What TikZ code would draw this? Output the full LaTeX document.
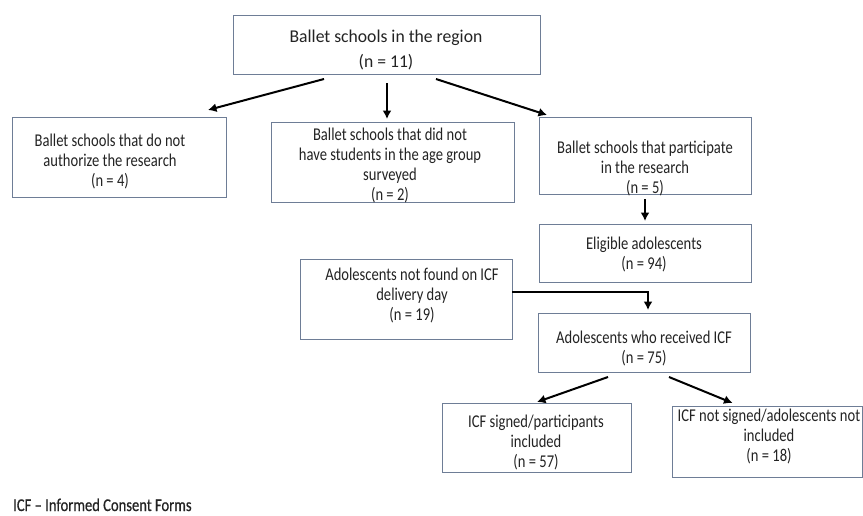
\documentclass[tikz,border=0pt]{standalone}
\usepackage{fontspec}
\setmainfont{Carlito}[FakeStretch=0.81]
\newfontfamily\topfont{Carlito}[FakeStretch=0.98]
\newfontfamily\notefont{Carlito}[FakeStretch=0.81,FakeBold=0.6]
\usetikzlibrary{arrows.meta}
\definecolor{boxc}{RGB}{110,125,150}
\definecolor{txtc}{RGB}{35,35,35}
\begin{document}
\begin{tikzpicture}[x=1pt,y=-1pt,
  box/.style={draw=boxc, line width=0.9pt, fill=white, inner sep=0pt, outer sep=0pt, anchor=north west},
  lbl/.style={text=txtc, align=center, font=\fontsize{18}{20}\selectfont, inner sep=0pt},
  toplbl/.style={text=txtc, align=center, font=\topfont\fontsize{18}{25}\selectfont, inner sep=0pt},
  arr/.style={line width=2pt, -{Latex[length=8.5pt,width=9pt]}},
  plain/.style={line width=2pt}]
\useasboundingbox[fill=white] (0,0) rectangle (863,515);

% boxes
\node[box, minimum width=307pt, minimum height=59pt] (top) at (233,15) {};
\node[box, minimum width=214pt, minimum height=80pt] (b1) at (12,117) {};
\node[box, minimum width=243pt, minimum height=80pt] (b2) at (271,122) {};
\node[box, minimum width=212pt, minimum height=77pt] (b3) at (539,117) {};
\node[box, minimum width=212pt, minimum height=58pt] (el) at (539,224) {};
\node[box, minimum width=212pt, minimum height=80pt] (nf) at (300,259) {};
\node[box, minimum width=212pt, minimum height=59pt] (rec) at (538,313) {};
\node[box, minimum width=189pt, minimum height=69pt] (sg) at (442,403) {};
\node[box, minimum width=190pt, minimum height=71pt] (ns) at (672,406) {};

% texts
\node[toplbl] (t0) at (386,50) {Ballet schools in the region\\(n = 11)};
\node[lbl] (t1) at (110,161) {Ballet schools that do not\\authorize the research\\(n = 4)};
\node[lbl] (t2) at (390,165) {Ballet schools that did not\\have students in the age group\\surveyed\\(n = 2)};
\node[lbl] (t3) at (645,168) {Ballet schools that participate\\in the research\\(n = 5)};
\node[lbl] (t4) at (644,254) {Eligible adolescents\\(n = 94)};
\node[lbl] (t5) at (412,295) {Adolescents not found on ICF\\delivery day\\(n = 19)};
\node[lbl] (t6) at (644,348) {Adolescents who received ICF\\(n = 75)};
\node[lbl] (t7) at (536,442) {ICF signed/participants\\included\\(n = 57)};
\node[lbl] (t8) at (769,436) {ICF not signed/adolescents not\\included\\(n = 18)};
\node[lbl, font=\notefont\fontsize{18}{20}\selectfont, anchor=base west] (fn) at (13,511) {ICF – Informed Consent Forms};

% connectors
\draw[arr] ([xshift=-62.5pt,yshift=-5pt]top.south) -- ([xshift=89pt,yshift=7pt]b1.north);
\draw[arr] ([xshift=0.5pt,yshift=-9pt]top.south) -- ([xshift=-5.5pt,yshift=3pt]b2.north);
\draw[arr] ([xshift=49.5pt,yshift=-5pt]top.south) -- ([xshift=-98pt,yshift=2pt]b3.north);
\draw[arr] ([yshift=-5pt]b3.south) -- ([yshift=3pt]el.north);
\coordinate (j) at (648,292);
\draw[plain] (nf.east |- j) -- (j);
\draw[arr] ([yshift=1pt]j) -- ([yshift=3pt]rec.north -| j);
\draw[arr] ([xshift=-36pt,yshift=-5pt]rec.south) -- ([xshift=0.5pt,yshift=1pt]sg.north);
\draw[arr] ([xshift=25pt,yshift=-5pt]rec.south) -- ([xshift=-34.5pt,yshift=3pt]ns.north);
\end{tikzpicture}
\end{document}
